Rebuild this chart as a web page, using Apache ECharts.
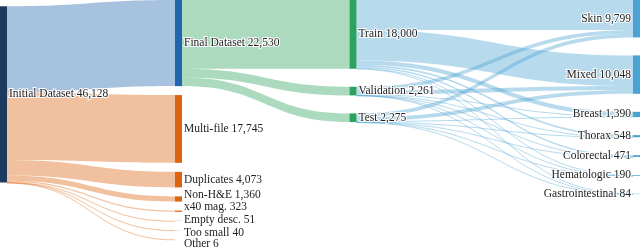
<!DOCTYPE html>
<html><head><meta charset="utf-8">
<script src="https://cdn.jsdelivr.net/npm/echarts@6/dist/echarts.min.js"></script>
<style>html,body{margin:0;padding:0;background:#fff}#c{width:640px;height:249px}</style>
</head><body><div id="c"></div>
<script>
const nodeNames = ["Initial Dataset","Final Dataset","Multi-file","Duplicates","Non-H&E","x40 mag.","Empty desc.","Too small","Other","Train","Validation","Test","Skin","Mixed","Breast","Thorax","Colorectal","Hematologic","Gastrointestinal"];
const nodeValues = [46128,22530,17745,4073,1360,323,51,40,6,18000,2261,2275,9799,10048,1390,548,471,190,84];
const filterTargets = ["Final Dataset","Multi-file","Duplicates","Non-H&E","x40 mag.","Empty desc.","Too small","Other"];
const filterValues = [22530,17745,4073,1360,323,51,40,6];
const splitNames = ["Train","Validation","Test"];
const splitValues = [18000,2261,2275];
const tissueNames = ["Skin","Mixed","Breast","Thorax","Colorectal","Hematologic","Gastrointestinal"];
const trainTissue = [7830,8030,1110,438,377,148,67];
const valTissue = [983,1007,140,55,47,21,8];
const testTissue = [986,1011,140,55,47,21,9];

// styling / layout config (not data)
const colorByStage = {source:"#1d3b5e", final:"#2166ac", removed:"#db6410", split:"#2ca25f", tissue:"#4aa3d3"};
// small vertical label nudges so the labels of tiny nodes do not collide
const labelNudge = {"Non-H&E":-4, "x40 mag.":-4, "Empty desc.":-1, "Too small":3, "Other":5};
function stageOf(n){
  if (n === "Initial Dataset") return 'source';
  if (n === "Final Dataset") return 'final';
  if (filterTargets.includes(n)) return 'removed';
  if (splitNames.includes(n)) return 'split';
  return 'tissue';
}
const fmt = v => v.toLocaleString('en-US');
const valueOf = n => nodeValues[nodeNames.indexOf(n)];

// Stage 1: filtering (Initial -> kept / removed)
const stage1Names = ["Initial Dataset"].concat(filterTargets);
const depth1 = {source:0, final:1, removed:1};
const nodes1 = stage1Names.map(n=>{
  const st = stageOf(n);
  return {name:n, value:valueOf(n), depth:depth1[st], itemStyle:{color:colorByStage[st]},
    label:{position:'right', offset:[0, labelNudge[n] || 0]}};
});
const links1 = filterTargets.map((t,i)=>({source:"Initial Dataset",target:t,value:filterValues[i]}));

// Stage 2: Final -> splits -> tissues
const stage2Names = ["Final Dataset"].concat(splitNames, tissueNames);
const depth2 = {final:0, split:8, tissue:21};
const nodes2 = stage2Names.map(n=>{
  const st = stageOf(n);
  return {name:n, value:valueOf(n), depth:depth2[st], itemStyle:{color:colorByStage[st]},
    label:{show: st!=='final', position: st==='tissue'?'left':'right'}};
});
const links2 = splitNames.map((s,i)=>({source:"Final Dataset",target:s,value:splitValues[i]}));
[trainTissue,valTissue,testTissue].forEach((arr,si)=>{
  arr.forEach((v,ti)=>links2.push({source:splitNames[si],target:tissueNames[ti],value:v}));
});

// layout sizes: px per unit shared by both stages
const fullHeight = 176.2, gap1 = 9, gap2 = 18;
const ky = fullHeight / valueOf("Initial Dataset");
const h1 = fullHeight + (filterTargets.length-1)*gap1;
const h2 = valueOf("Final Dataset")*ky + (tissueNames.length-1)*gap2;

const common = {
  type:'sankey', nodeWidth:7, nodeAlign:'left', draggable:false,
  itemStyle:{borderWidth:0},
  lineStyle:{color:'target',opacity:0.4,curveness:0.5},
  label:{
    fontFamily:'Liberation Serif', fontSize:11.5, color:'#222', distance:2,
    textBorderColor:'#fff', textBorderWidth:2,
    formatter:p=>p.name+' '+fmt(p.data.value)
  },
  emphasis:{disabled:true}
};

const chart = echarts.init(document.getElementById('c'));
chart.setOption({
  animation:false,
  series:[
    Object.assign({}, common, {left:0, width:182, top:0, height:h1, nodeGap:gap1, data:nodes1, links:links1}),
    Object.assign({}, common, {left:175, right:0, top:0, height:h2, nodeGap:gap2, layoutIterations:0, data:nodes2, links:links2})
  ]
});
</script></body></html>
